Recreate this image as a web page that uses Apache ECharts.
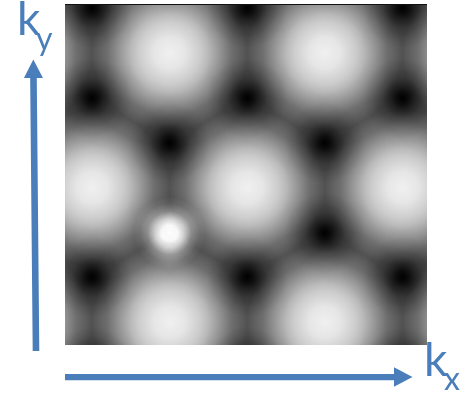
<!DOCTYPE html>
<html>
<head>
<meta charset="utf-8">
<script src="https://cdn.jsdelivr.net/npm/echarts@6/dist/echarts.min.js"></script>
<style>
  html, body { margin: 0; padding: 0; background: #ffffff; }
  #chart { width: 468px; height: 393px; }
</style>
</head>
<body>
<div id="chart"></div>
<script>
// Visible window in k-space, in units of the Γ–Γ spacing
const kxRange = [0, 2.331];
const kyRange = [0, 2.196];

// Γ points: bright maxima of the intensity map
const gammaKx = [0.174, 1.174, 2.174, -0.327, 0.673, 1.673, 2.673, 0.174, 1.174, 2.174, -0.327, 0.673, 1.673, 2.673, 0.174, 1.174, 2.174];
const gammaKy = [2.746, 2.746, 2.746, 1.880, 1.880, 1.880, 1.880, 1.014, 1.014, 1.014, 0.148, 0.148, 0.148, 0.148, -0.718, -0.718, -0.718];
const gammaI  = [0.94, 0.94, 0.94, 0.94, 0.94, 0.94, 0.94, 0.94, 0.94, 0.94, 0.94, 0.94, 0.94, 0.94, 0.94, 0.94, 0.94];

// K / K' points: intensity zeros (dark cones)
const diracKx = [0.174, 1.174, 2.174, 0.174, 1.174, 2.174, 0.673, 1.673, 1.673, 0.174, 1.174, 2.174, 0.174, 1.174, 2.174];
const diracKy = [2.170, 2.170, 2.170, 1.590, 1.590, 1.590, 1.301, 1.301, 0.721, 0.438, 0.438, 0.438, -0.142, -0.142, -0.142];
const diracDepth = [1, 1, 1, 1, 1, 1, 1, 1, 1, 1, 1, 1, 1, 1, 1];

// Bright spot sitting on one K' point
const spotKx = [0.673];
const spotKy = [0.721];
const spotI  = [1];

// Radial profiles of each kind of feature: [radius in k units, [offset, relative level]...]
const gammaProfile = [0.75, [[0, 1], [0.1333, 0.96], [0.2667, 0.85], [0.3333, 0.77], [0.4, 0.65], [0.5333, 0.4], [0.6667, 0.17], [0.8, 0.063], [0.9333, 0.02], [1, 0]]];
const diracProfile = [0.26, [[0, 1], [0.15, 0.8], [0.3, 0.52], [0.5, 0.25], [0.75, 0.08], [1, 0]]];
const spotProfile  = [0.232, [[0, 0.75], [0.22, 0.72], [0.39, 0.55], [0.61, 0.22], [0.83, 0.06], [1, 0]]];

const blue = '#4a7ebb';

function blobSeries(xs, ys, levels, profile, rgb, blend, z) {
  const radius = profile[0];
  const stops = profile[1];
  return {
    type: 'custom',
    coordinateSystem: 'cartesian2d',
    clip: true,
    silent: true,
    z: z,
    blendMode: blend,
    data: xs.map((x, i) => [x, ys[i], levels[i]]),
    renderItem: function (params, api) {
      const c = api.coord([api.value(0), api.value(1)]);
      const r = api.size([radius, 0])[0];
      const v = api.value(2);
      return {
        type: 'circle',
        shape: { cx: c[0], cy: c[1], r: r },
        style: {
          fill: new echarts.graphic.RadialGradient(0.5, 0.5, 0.5,
            stops.map(s => ({ offset: s[0], color: 'rgba(' + rgb + ',' + (s[1] * v).toFixed(4) + ')' })))
        }
      };
    }
  };
}

const chart = echarts.init(document.getElementById('chart'), null, { renderer: 'canvas' });

chart.setOption({
  backgroundColor: '#ffffff',
  animation: false,
  grid: {
    left: 65, top: 4, width: 362, height: 341,
    show: true, backgroundColor: '#000000', borderWidth: 0
  },
  xAxis: { type: 'value', min: kxRange[0], max: kxRange[1], show: false },
  yAxis: { type: 'value', min: kyRange[0], max: kyRange[1], show: false },
  series: [
    blobSeries(gammaKx, gammaKy, gammaI, gammaProfile, '255,255,255', 'lighter', 2),
    blobSeries(spotKx, spotKy, spotI, spotProfile, '255,255,255', 'lighter', 3),
    blobSeries(diracKx, diracKy, diracDepth, diracProfile, '0,0,0', 'source-over', 4)
  ],
  graphic: [
    // thin dark edge along the top of the map
    { type: 'rect', z: 50, silent: true, shape: { x: 65, y: 4, width: 362, height: 1 }, style: { fill: '#111111' } },
    // k_y arrow
    {
      type: 'polygon', z: 100, silent: true,
      shape: { points: [[32.7, 351], [39.3, 351], [36.77, 78], [42.97, 78], [33.3, 59.5], [23.97, 78], [30.17, 78]] },
      style: { fill: blue }
    },
    // k_x arrow
    {
      type: 'polygon', z: 100, silent: true,
      shape: { points: [[65, 374], [394, 374], [394, 367.3], [412.5, 377], [394, 386.7], [394, 380.3], [65, 380.3]] },
      style: { fill: blue }
    },
    { type: 'text', z: 100, silent: true, style: { text: 'k', x: 17, y: -3, font: '46px Lato', fill: blue, verticalAlign: 'top' } },
    { type: 'text', z: 100, silent: true, style: { text: 'y', x: 36, y: 24, font: '32px Lato', fill: blue, verticalAlign: 'top' } },
    { type: 'text', z: 100, silent: true, style: { text: 'k', x: 424, y: 338, font: '46px Lato', fill: blue, verticalAlign: 'top' } },
    { type: 'text', z: 100, silent: true, style: { text: 'x', x: 444, y: 364, font: '32px Lato', fill: blue, verticalAlign: 'top' } }
  ]
});
</script>
</body>
</html>
